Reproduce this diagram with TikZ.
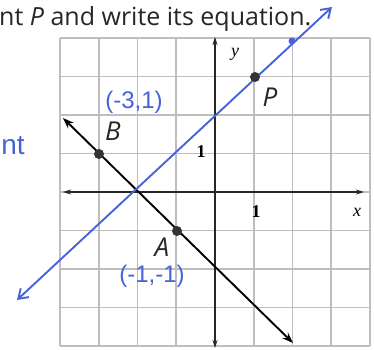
\documentclass[tikz,border=0pt]{standalone}
\usepackage{fontspec}
\setmainfont{Open Sans}
\newfontfamily\serifA{Liberation Serif}
\newfontfamily\handA{Liberation Sans}
\usetikzlibrary{arrows.meta}
\definecolor{penblue}{RGB}{72,98,218}
\definecolor{gridgray}{RGB}{190,190,190}
\tikzset{
  gridline/.style={draw=gridgray, line width=1.6pt},
  axisline/.style={draw=black!85, line width=1.9pt, {Stealth[length=8pt,width=5pt]}-{Stealth[length=8pt,width=5pt]}},
  blackline/.style={draw=black, line width=1.9pt, {Stealth[length=11pt,width=8pt]}-{Stealth[length=11pt,width=8pt]}},
  blueline/.style={draw=penblue, line width=1.9pt, {Straight Barb[length=9pt,width=12pt,line width=1.9pt]}-{Straight Barb[length=9pt,width=12pt,line width=1.9pt]}},
  ptdot/.style={circle, fill=black!80, inner sep=0pt, minimum size=10pt},
  bluedot/.style={circle, fill=penblue, inner sep=0pt, minimum size=7pt},
  ptlabel/.style={font=\fontsize{26}{26}\selectfont\itshape, text=black!85, inner sep=0pt},
  axlabel/.style={font=\serifA\fontsize{18}{18}\selectfont\itshape, inner sep=0pt},
  ticklabel/.style={font=\serifA\fontsize{18}{18}\selectfont\bfseries, inner sep=0pt},
  hand/.style={font=\handA\fontsize{24}{24}\selectfont, text=penblue, inner sep=0pt},
}
\begin{document}
\begin{tikzpicture}[x=1pt,y=-1pt]
\useasboundingbox (0,0) rectangle (374,349);
% grid
\foreach \i in {0,...,8} {
  \draw[gridline] ({60+38.75*\i},38) -- ({60+38.75*\i},346);
  \draw[gridline] (60,{38+38.5*\i}) -- (370,{38+38.5*\i});
}
% axes
\coordinate (xl) at (63,192);
\coordinate (xr) at (364,192);
\coordinate (yt) at (215,37);
\coordinate (yb) at (215,348);
\draw[axisline] (xl) -- (xr);
\draw[axisline] (yt) -- (yb);
% lines
\coordinate (bl1) at (63,118);
\coordinate (bl2) at (293,343);
\draw[blackline] (bl1) -- (bl2);
\coordinate (bu1) at (17,300);
\coordinate (bu2) at (332,7);
\draw[blueline] (bu1) -- (bu2);
% points
\node[ptdot] (B) at (99,154) {};
\node[ptdot] (A) at (177,231) {};
\node[ptdot] (P) at (255,77) {};
\node[bluedot] (Q) at (292,41) {};
% labels
\node[ptlabel] (lB) at (113,131) {B};
\node[ptlabel] (lA) at (162,247) {A};
\node[ptlabel] (lP) at (270,97) {P};
\node[axlabel] (ly) at (235,54) {y};
\node[axlabel] (lx) at (357,212) {x};
\node[ticklabel] (t1) at (201,152) {1};
\node[ticklabel] (t2) at (256,212) {1};
% handwriting
\node[hand] (h1) at (134,102) {(-3,1)};
\node[hand] (h2) at (152,276) {(-1,-1)};
\node[hand, font=\handA\fontsize{28}{28}\selectfont] (h3) at (13,146) {nt};
% title
\node[anchor=base west, inner sep=0pt, font=\fontsize{25}{25}\selectfont, text=black!85] (title) at (-1,25) {nt \textit{P} and write its equation.};
\end{tikzpicture}
\end{document}
